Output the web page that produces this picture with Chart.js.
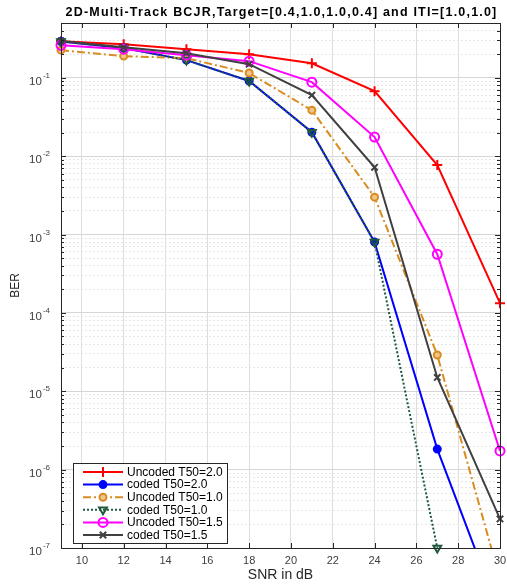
<!DOCTYPE html>
<html>
<head>
<meta charset="utf-8">
<script src="https://cdn.jsdelivr.net/npm/chart.js@4.4.1/dist/chart.umd.min.js"></script>
<style>
    html, body { margin: 0; padding: 0; background: #fff; }
    #wrap { width: 507px; height: 584px; position: relative; }
</style>
</head>
<body>
<div id="wrap"><canvas id="ber-chart"></canvas></div>
<script>
const snr = [9, 12, 15, 18, 21, 24, 27, 30];
const xTicks = [10, 12, 14, 16, 18, 20, 22, 24, 26, 28, 30];
const yDecades = [-7, -6, -5, -4, -3, -2, -1];

const uncoded20 = [0.293, 0.268, 0.232, 0.200, 0.153, 0.0675, 0.0077, 1.33e-4];
const coded20 = [0.290, 0.240, 0.168, 0.091, 0.0202, 8.0e-4, 1.83e-6, 1.4e-8];
const uncoded10 = [0.225, 0.189, 0.178, 0.115, 0.0386, 0.0030, 2.9e-5, 4.0e-8];
const coded10 = [0.290, 0.240, 0.168, 0.091, 0.0202, 8.0e-4, 1.0e-7, null];
const uncoded15 = [0.260, 0.232, 0.194, 0.163, 0.088, 0.0175, 5.6e-4, 1.73e-6];
const coded15 = [0.295, 0.245, 0.206, 0.149, 0.060, 0.0072, 1.5e-5, 2.35e-7];

const chartTitle = "2D-Multi-Track BCJR,Target=[0.4,1.0,1.0,0.4] and ITI=[1.0,1.0]";
const FONT = "'Liberation Sans', Arial, sans-serif";

function isDecade(v){
    const l = Math.log10(v);
    return Math.abs(l - Math.round(l)) < 1e-6;
}

function series(label, data, color, style, extra){
    return Object.assign({
        label: label,
        data: data.map((v, i) => ({x: snr[i], y: v})),
        borderColor: color,
        backgroundColor: color,
        borderWidth: 2,
        pointStyle: style,
        pointRadius: 4,
        pointBorderWidth: 2,
        pointBorderColor: color,
        pointBackgroundColor: 'rgba(0,0,0,0)',
        tension: 0,
        clip: {left: 8, top: 8, right: 8, bottom: 0}
    }, extra || {});
}

// box, inner ticks, y labels, title and legend
const matlabFrame = {
    id: 'matlabFrame',
    afterDraw(chart){
        const ctx = chart.ctx;
        const a = chart.chartArea;
        const xs = chart.scales.x;
        const ys = chart.scales.y;

        ctx.save();
        ctx.strokeStyle = '#262626';
        ctx.lineWidth = 1;
        ctx.setLineDash([]);
        ctx.strokeRect(a.left + 0.5, a.top + 0.5, a.right - a.left, a.bottom - a.top);

        ctx.beginPath();
        ys.ticks.forEach(t => {
            const y = Math.round(ys.getPixelForValue(t.value)) + 0.5;
            const len = isDecade(t.value) ? 5 : 3;
            ctx.moveTo(a.left, y); ctx.lineTo(a.left + len, y);
            ctx.moveTo(a.right, y); ctx.lineTo(a.right - len, y);
        });
        xs.ticks.forEach(t => {
            const x = Math.round(xs.getPixelForValue(t.value)) + 0.5;
            ctx.moveTo(x, a.bottom); ctx.lineTo(x, a.bottom - 5);
            ctx.moveTo(x, a.top); ctx.lineTo(x, a.top + 5);
        });
        ctx.stroke();

        // y labels as 10 with superscript exponent
        ctx.fillStyle = '#404040';
        ctx.textBaseline = 'middle';
        yDecades.forEach(e => {
            const y = ys.getPixelForValue(Math.pow(10, e));
            const exp = '-' + Math.abs(e);
            ctx.font = '8px ' + FONT;
            const ew = ctx.measureText(exp).width;
            ctx.textAlign = 'right';
            ctx.fillText(exp, 50, y - 2);
            ctx.font = '11.5px ' + FONT;
            ctx.fillText('10', 50 - ew - 1, y + 4);
        });

        ctx.fillStyle = '#000';
        ctx.font = 'bold 12.5px ' + FONT;
        ctx.letterSpacing = '1.2px';
        ctx.textAlign = 'center';
        ctx.fillText(chartTitle, (a.left + a.right) / 2 + 1, 13);
        ctx.letterSpacing = '0px';

        // legend
        const lx = 73, ly = 463, lw = 154, lh = 80;
        ctx.fillStyle = '#fff';
        ctx.fillRect(lx, ly, lw, lh);
        ctx.strokeStyle = '#262626';
        ctx.strokeRect(lx + 0.5, ly + 0.5, lw, lh);
        ctx.font = '12px ' + FONT;
        ctx.textAlign = 'left';
        chart.data.datasets.forEach((ds, i) => {
            const y = ly + 9 + i * 12.6;
            ctx.strokeStyle = ds.borderColor;
            ctx.lineWidth = ds.borderWidth;
            ctx.setLineDash(ds.borderDash || []);
            ctx.beginPath();
            ctx.moveTo(83, y); ctx.lineTo(123, y);
            ctx.stroke();
            ctx.setLineDash([]);
            ctx.lineWidth = ds.pointBorderWidth;
            ctx.fillStyle = ds.pointBackgroundColor;
            Chart.helpers.drawPoint(ctx, {
                pointStyle: ds.pointStyle,
                radius: ds.pointRadius,
                rotation: ds.pointRotation || 0,
                borderWidth: ds.pointBorderWidth
            }, 103, y);
            ctx.fillStyle = '#000';
            ctx.fillText(ds.label, 127, y + 0.5);
        });
        ctx.restore();
    }
};

function renderBerChart(){
    const canvas = document.getElementById("ber-chart");
    const ctx = canvas.getContext("2d");

    const datasets = [
        series('Uncoded T50=2.0', uncoded20, '#ff0000', 'cross', {order: 6, pointRadius: 5}),
        series('coded T50=2.0', coded20, '#0000ff', 'circle', {order: 5, pointRadius: 3.5, pointBackgroundColor: '#0000ff'}),
        series('Uncoded T50=1.0', uncoded10, '#d98c1f', 'circle', {order: 4, borderDash: [8, 3, 2, 3], pointRadius: 3.5, pointBackgroundColor: '#efc58a'}),
        series('coded T50=1.0', coded10, '#1d5a3c', 'triangle', {order: 3, borderDash: [2, 2], pointRotation: 180, pointRadius: 4.5, clip: 8}),
        series('Uncoded T50=1.5', uncoded15, '#ff00ff', 'circle', {order: 2, pointRadius: 4.5}),
        series('coded T50=1.5', coded15, '#404040', 'crossRot', {order: 1, pointRadius: 4.5})
    ];

    new Chart(ctx, {
        type: 'line',
        data: { datasets: datasets },
        plugins: [matlabFrame],
        options: {
            responsive: true,
            maintainAspectRatio: false,
            animation: false,
            layout: { padding: { top: 23, right: 0, left: 0, bottom: 0 } },
            plugins: {
                legend: { display: false },
                tooltip: { enabled: false }
            },
            scales: {
                x: {
                    type: 'linear',
                    min: 9,
                    max: 30,
                    afterBuildTicks: axis => { axis.ticks = xTicks.map(v => ({value: v})); },
                    afterFit: axis => {
                        axis.height = 36;
                        axis.paddingLeft = 0;
                        axis.paddingRight = 6;
                    },
                    grid: { color: '#dedede', drawTicks: false },
                    border: { display: false },
                    ticks: {
                        color: '#404040',
                        padding: 6,
                        maxRotation: 0,
                        font: { family: FONT, size: 11 }
                    },
                    title: {
                        display: true,
                        text: 'SNR in dB',
                        color: '#262626',
                        padding: { top: 0, bottom: 0 },
                        font: { family: FONT, size: 14 }
                    }
                },
                y: {
                    type: 'logarithmic',
                    min: 1e-7,
                    max: 0.5,
                    afterBuildTicks: axis => {
                        const ticks = [];
                        for (let e = -7; e <= -1; e++) {
                            for (let m = 1; m <= 9; m++) {
                                const v = m * Math.pow(10, e);
                                if (v <= 0.5 + 1e-9) ticks.push({value: v});
                            }
                        }
                        axis.ticks = ticks;
                    },
                    afterFit: axis => { axis.width = 61; },
                    grid: {
                        drawTicks: false,
                        color: c => (c.tick && isDecade(c.tick.value)) ? '#d6d6d6' : '#e6e6e6'
                    },
                    border: {
                        display: false,
                        dash: c => (c.tick && !isDecade(c.tick.value)) ? [2, 2] : []
                    },
                    ticks: { display: false },
                    title: {
                        display: true,
                        text: 'BER',
                        color: '#262626',
                        padding: { top: 8, bottom: 0 },
                        font: { family: FONT, size: 12 }
                    }
                }
            }
        }
    });
}

document.addEventListener("DOMContentLoaded", renderBerChart);
</script>
</body>
</html>
